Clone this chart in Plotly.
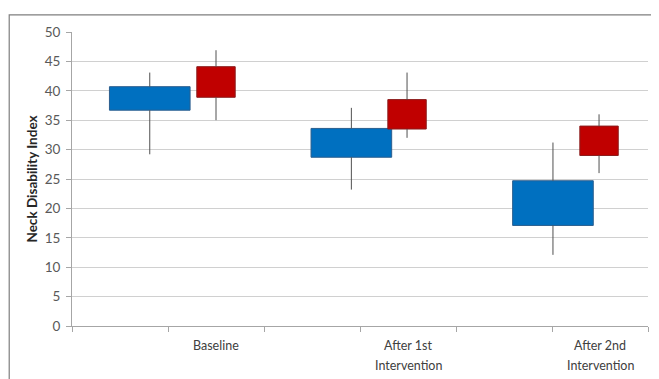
import plotly.graph_objects as go

# ---- data ----
categories = ["Baseline", "After 1st Intervention", "After 2nd Intervention"]
label_lines = [["Baseline"], ["After 1st", "Intervention"], ["After 2nd", "Intervention"]]

blue_low = [29.2, 23.2, 12.1]
blue_open = [36.7, 28.7, 17.1]
blue_close = [40.7, 33.6, 24.7]
blue_high = [43.1, 37.1, 31.2]

red_low = [35.0, 32.0, 26.0]
red_open = [38.9, 33.5, 29.0]
red_close = [44.1, 38.5, 34.0]
red_high = [46.9, 43.1, 36.0]

y_ticks = list(range(0, 51, 5))

# ---- layout helpers ----
centers = [1.5, 3.5, 5.5]
blue_offset = [-0.69, -0.59, -0.49]
red_offset = [0.0, -0.01, -0.01]
blue_x = [c + o for c, o in zip(centers, blue_offset)]
red_x = [c + o for c, o in zip(centers, red_offset)]

BLUE = "#0070C0"
BLUE_LINE = "#2B5E8E"
RED = "#C00000"
RED_LINE = "#8A1C1C"
WHISK = "#505050"
TXT = "#595959"

fig = go.Figure()


def whiskers(xs, lo, op, cl, hi):
    wx, wy = [], []
    for x, a, b, c, d in zip(xs, lo, op, cl, hi):
        bot, top = min(b, c), max(b, c)
        wx += [x, x, None, x, x, None]
        wy += [d, top, None, bot, a, None]
    return wx, wy


for xs, lo, op, cl, hi, col, lcol, w in [
    (blue_x, blue_low, blue_open, blue_close, blue_high, BLUE, BLUE_LINE, 0.84),
    (red_x, red_low, red_open, red_close, red_high, RED, RED_LINE, 0.40),
]:
    wx, wy = whiskers(xs, lo, op, cl, hi)
    fig.add_trace(go.Scatter(x=wx, y=wy, mode="lines",
                             line=dict(color=WHISK, width=1),
                             hoverinfo="skip", showlegend=False))
    fig.add_trace(go.Bar(x=xs, base=[min(a, b) for a, b in zip(op, cl)],
                         y=[abs(b - a) for a, b in zip(op, cl)],
                         width=w, marker=dict(color=col, line=dict(color=lcol, width=1)),
                         showlegend=False))

# the page body has an 8px margin, so the figure is sized to fit the window
fig.update_layout(
    width=651, height=371,
    margin=dict(l=64, r=11, t=24, b=53, autoexpand=False),
    paper_bgcolor="white", plot_bgcolor="white",
    barmode="overlay",
    font=dict(family="Lato, Open Sans, sans-serif", color=TXT, size=13),
)

fig.update_xaxes(
    range=[0, 6], tickvals=centers, ticktext=["" for _ in centers], ticks="",
    showgrid=False, showline=True, linecolor="#A6A6A6", linewidth=1,
    zeroline=False, automargin=False,
    minor=dict(ticks="outside", tick0=0, dtick=1, ticklen=5, tickcolor="#A6A6A6", showgrid=False),
    fixedrange=True,
)
fig.update_yaxes(
    range=[0, 50], tickvals=y_ticks, ticks="outside", ticklen=5, tickcolor="#A6A6A6",
    showgrid=True, gridcolor="#D0D0D0", gridwidth=1,
    showline=True, linecolor="#A6A6A6", linewidth=1, zeroline=False, automargin=False,
    tickfont=dict(size=13.5, color=TXT), ticklabelstandoff=3,
    title=dict(text="<b>Neck Disability Index</b>", font=dict(size=13.5, color="#262626"), standoff=3),
)

# category labels (two-line labels spaced like the reference)
line_y = [-0.068, -0.135]
for c, lines in zip(centers, label_lines):
    for i, t in enumerate(lines):
        fig.add_annotation(x=c, y=line_y[i], xref="x", yref="paper", text=t,
                           showarrow=False, yanchor="middle", xanchor="center",
                           font=dict(size=12.5, color="#404040"))

# outer chart frame (top and left edges)
fig.add_shape(type="path", xref="paper", yref="paper",
              path="M -0.109,-0.2 L -0.109,1.058 L 1.03,1.058",
              line=dict(color="#7F7F7F", width=1.2))

fig.write_html("out.html")
